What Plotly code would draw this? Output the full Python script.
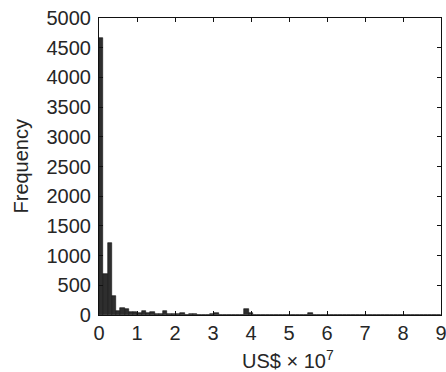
import plotly.graph_objects as go

# Histogram data (bin width in units of 1e7 US$)
bin_width = 0.1125
counts = [4660, 690, 1218, 320, 73, 123, 96, 56, 45, 28,
          62, 28, 45, 17, 17, 62, 12, 20, 10, 28,
          6, 15, 20, 8, 5, 6, 25, 40, 4, 3,
          5, 3, 4, 6, 95, 40, 3, 2, 4, 3,
          2, 3, 2, 4, 2, 3, 2, 3, 4, 40,
          3, 2, 2, 3, 2, 2, 3, 2, 2, 2,
          2, 2, 2, 3, 2, 2, 2, 2, 2, 2,
          2, 2, 2, 2, 2, 2, 2, 2, 2, 2]
x_ticks = [0, 1, 2, 3, 4, 5, 6, 7, 8, 9]
y_ticks = [0, 500, 1000, 1500, 2000, 2500, 3000, 3500, 4000, 4500, 5000]

centers = [(i + 0.5) * bin_width for i in range(len(counts))]

fig = go.Figure(go.Bar(
    x=centers, y=counts, width=bin_width,
    marker=dict(color="#2e2e2e", line=dict(color="#111111", width=0.6)),
))

font = dict(family="Liberation Sans, Arial, Helvetica, sans-serif", size=20, color="#262626")

fig.update_layout(
    width=446, height=372,
    margin=dict(l=99, r=5, t=18, b=57, autoexpand=False),
    paper_bgcolor="white", plot_bgcolor="white",
    bargap=0, showlegend=False, font=font,
    annotations=[
        dict(text="US$ × 10<sup>7</sup>", xref="paper", yref="paper",
             x=(240 - 99) / 342, y=0, yshift=-30, xanchor="left", yanchor="top",
             showarrow=False, font=font),
        dict(text="Frequency", xref="paper", yref="paper",
             x=0, y=0.5, xshift=-79, xanchor="center", yanchor="middle",
             textangle=-90, showarrow=False, font=font),
    ],
)
fig.update_xaxes(
    range=[0, 9], tickvals=x_ticks, ticktext=[str(v) for v in x_ticks],
    ticks="inside", ticklen=4, tickcolor="#111111", automargin=False,
    ticklabeloverflow="allow",
    showline=True, linecolor="#111111", linewidth=1.2, mirror="ticks",
    showgrid=False, zeroline=False,
)
fig.update_yaxes(
    range=[0, 5000], tickvals=y_ticks, ticktext=[str(v) for v in y_ticks],
    ticks="inside", ticklen=4, tickcolor="#111111", automargin=False,
    ticklabelstandoff=3, ticklabeloverflow="allow",
    showline=True, linecolor="#111111", linewidth=1.2, mirror="ticks",
    showgrid=False, zeroline=False,
)

fig.write_html("out.html",
               config={"displayModeBar": False},
               post_script="document.body.style.margin='0';document.body.style.overflow='hidden';")
